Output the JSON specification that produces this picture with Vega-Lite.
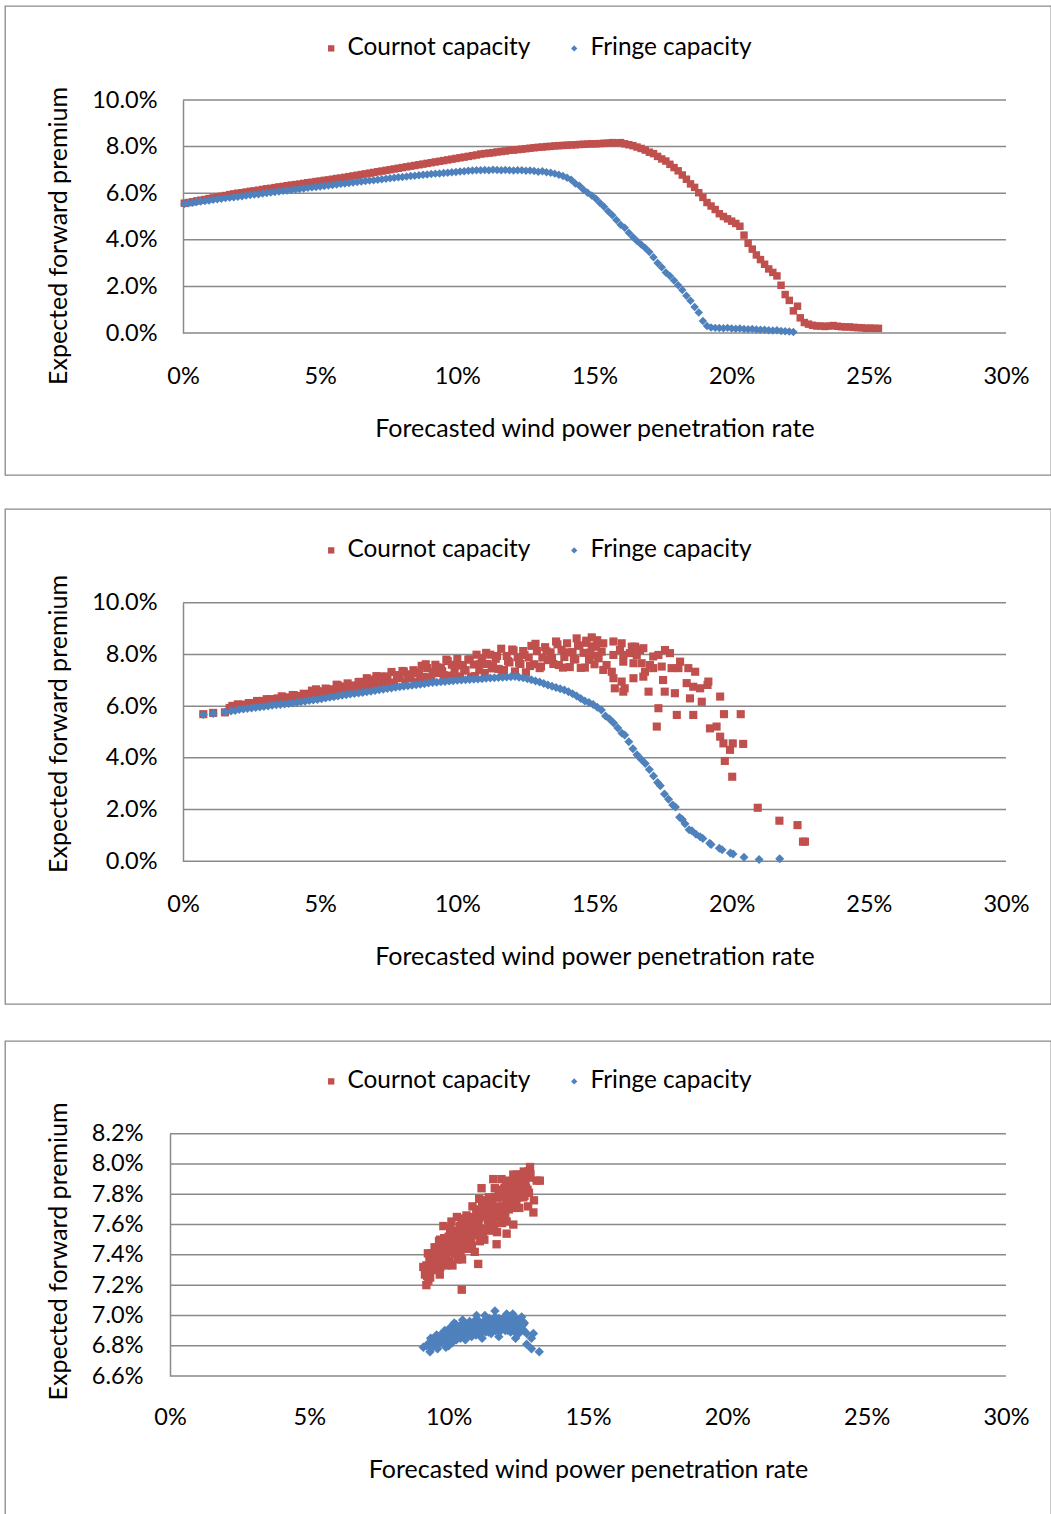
{
  "$schema": "https://vega.github.io/schema/vega-lite/v6.json",
  "padding": {"left": 4, "top": 5, "right": 0, "bottom": 0},
  "background": "white",
  "config": {
    "font": "Lato",
    "view": {"stroke": "#898989", "strokeWidth": 1.3},
    "axis": {
      "labelFont": "Lato", "labelFontSize": 23.5, "labelColor": "#000000",
      "titleFont": "Lato", "titleFontSize": 25, "titleFontWeight": "normal", "titleColor": "#000000",
      "grid": false, "ticks": false, "tickSize": 0, "labelFlush": false, "labelOverlap": false,
      "domainColor": "#898989", "domainWidth": 1.5
    },
    "legend": {
      "orient": "none", "direction": "horizontal", "title": null, "padding": 0, "labelLimit": 0,
      "labelFont": "Lato", "labelFontSize": 24.4, "labelColor": "#000000",
      "symbolSize": 40, "symbolStrokeWidth": 0, "labelOffset": 4, "columnPadding": 31
    }
  },
  "datasets": {
    "grid10": [{"y": 0}, {"y": 2}, {"y": 4}, {"y": 6}, {"y": 8}, {"y": 10}],
    "grid82": [{"y": 6.6}, {"y": 6.8}, {"y": 7.0}, {"y": 7.2}, {"y": 7.4}, {"y": 7.6}, {"y": 7.8}, {"y": 8.0}, {"y": 8.2}],
    "c1": [
      {"x":0.05,"y":5.57},{"x":0.2,"y":5.6},{"x":0.35,"y":5.63},{"x":0.5,"y":5.67},{"x":0.65,"y":5.7},{"x":0.8,"y":5.73},{"x":0.95,"y":5.77},{"x":1.1,"y":5.8},{"x":1.25,"y":5.84},{"x":1.4,"y":5.87},
      {"x":1.55,"y":5.9},{"x":1.7,"y":5.94},{"x":1.85,"y":5.97},{"x":2.0,"y":6.0},{"x":2.15,"y":6.02},{"x":2.3,"y":6.05},{"x":2.45,"y":6.08},{"x":2.6,"y":6.1},{"x":2.75,"y":6.13},{"x":2.9,"y":6.16},
      {"x":3.05,"y":6.19},{"x":3.2,"y":6.21},{"x":3.35,"y":6.24},{"x":3.5,"y":6.27},{"x":3.65,"y":6.29},{"x":3.8,"y":6.32},{"x":3.95,"y":6.35},{"x":4.1,"y":6.37},{"x":4.25,"y":6.39},{"x":4.4,"y":6.42},
      {"x":4.55,"y":6.45},{"x":4.7,"y":6.47},{"x":4.85,"y":6.5},{"x":5.0,"y":6.52},{"x":5.15,"y":6.55},{"x":5.3,"y":6.57},{"x":5.45,"y":6.6},{"x":5.6,"y":6.63},{"x":5.75,"y":6.65},{"x":5.9,"y":6.68},
      {"x":6.05,"y":6.71},{"x":6.2,"y":6.74},{"x":6.35,"y":6.77},{"x":6.5,"y":6.8},{"x":6.65,"y":6.83},{"x":6.8,"y":6.86},{"x":6.95,"y":6.89},{"x":7.1,"y":6.92},{"x":7.25,"y":6.95},{"x":7.4,"y":6.98},
      {"x":7.55,"y":7.01},{"x":7.7,"y":7.04},{"x":7.85,"y":7.07},{"x":8.0,"y":7.1},{"x":8.15,"y":7.13},{"x":8.3,"y":7.16},{"x":8.45,"y":7.19},{"x":8.6,"y":7.22},{"x":8.75,"y":7.25},{"x":8.9,"y":7.28},
      {"x":9.05,"y":7.31},{"x":9.2,"y":7.34},{"x":9.35,"y":7.37},{"x":9.5,"y":7.4},{"x":9.65,"y":7.43},{"x":9.8,"y":7.46},{"x":9.95,"y":7.49},{"x":10.1,"y":7.52},{"x":10.25,"y":7.55},{"x":10.4,"y":7.58},
      {"x":10.55,"y":7.61},{"x":10.7,"y":7.64},{"x":10.85,"y":7.68},{"x":11.0,"y":7.7},{"x":11.15,"y":7.72},{"x":11.3,"y":7.74},{"x":11.45,"y":7.77},{"x":11.6,"y":7.79},{"x":11.75,"y":7.81},{"x":11.9,"y":7.84},
      {"x":12.05,"y":7.85},{"x":12.2,"y":7.87},{"x":12.35,"y":7.89},{"x":12.5,"y":7.91},{"x":12.65,"y":7.93},{"x":12.8,"y":7.95},{"x":12.95,"y":7.97},{"x":13.1,"y":7.98},{"x":13.25,"y":8.0},{"x":13.4,"y":8.01},
      {"x":13.55,"y":8.03},{"x":13.7,"y":8.04},{"x":13.85,"y":8.05},{"x":14.0,"y":8.06},{"x":14.15,"y":8.07},{"x":14.3,"y":8.08},{"x":14.45,"y":8.09},{"x":14.6,"y":8.1},{"x":14.75,"y":8.11},{"x":14.9,"y":8.12},
      {"x":15.05,"y":8.12},{"x":15.2,"y":8.13},{"x":15.35,"y":8.14},{"x":15.5,"y":8.15},{"x":15.65,"y":8.17},{"x":15.8,"y":8.16},{"x":15.95,"y":8.17},{"x":16.1,"y":8.12},{"x":16.25,"y":8.08},{"x":16.4,"y":8.04},
      {"x":16.55,"y":7.98},{"x":16.7,"y":7.92},{"x":16.85,"y":7.85},{"x":17.0,"y":7.76},{"x":17.15,"y":7.7},{"x":17.3,"y":7.58},{"x":17.45,"y":7.47},{"x":17.6,"y":7.38},{"x":17.75,"y":7.24},{"x":17.9,"y":7.1},
      {"x":18.05,"y":6.96},{"x":18.2,"y":6.78},{"x":18.35,"y":6.6},{"x":18.5,"y":6.4},{"x":18.65,"y":6.25},{"x":18.8,"y":6.02},{"x":18.95,"y":5.82},{"x":19.1,"y":5.6},{"x":19.25,"y":5.45},{"x":19.4,"y":5.3},
      {"x":19.55,"y":5.12},{"x":19.7,"y":5.0},{"x":19.85,"y":4.9},{"x":20.0,"y":4.8},{"x":20.15,"y":4.7},{"x":20.3,"y":4.58},{"x":20.45,"y":4.2},{"x":20.6,"y":3.85},{"x":20.75,"y":3.6},{"x":20.9,"y":3.35},
      {"x":21.05,"y":3.15},{"x":21.2,"y":2.95},{"x":21.35,"y":2.75},{"x":21.5,"y":2.6},{"x":21.65,"y":2.45},{"x":21.8,"y":2.05},{"x":21.95,"y":1.65},{"x":22.1,"y":1.4},{"x":22.25,"y":0.95},{"x":22.4,"y":1.15},
      {"x":22.5,"y":0.65},{"x":22.65,"y":0.45},{"x":22.8,"y":0.38},{"x":22.95,"y":0.33},{"x":23.1,"y":0.3},{"x":23.25,"y":0.3},{"x":23.4,"y":0.28},{"x":23.55,"y":0.3},{"x":23.7,"y":0.32},{"x":23.85,"y":0.29},
      {"x":24.0,"y":0.27},{"x":24.15,"y":0.26},{"x":24.3,"y":0.26},{"x":24.45,"y":0.24},{"x":24.6,"y":0.23},{"x":24.75,"y":0.22},{"x":24.9,"y":0.2},{"x":25.05,"y":0.21},{"x":25.2,"y":0.2},{"x":25.35,"y":0.2}
    ],
    "f1": [
      {"x":0.05,"y":5.54},{"x":0.2,"y":5.57},{"x":0.35,"y":5.59},{"x":0.5,"y":5.62},{"x":0.65,"y":5.64},{"x":0.8,"y":5.67},{"x":0.95,"y":5.69},{"x":1.1,"y":5.72},{"x":1.25,"y":5.74},{"x":1.4,"y":5.76},
      {"x":1.55,"y":5.79},{"x":1.7,"y":5.81},{"x":1.85,"y":5.83},{"x":2.0,"y":5.85},{"x":2.15,"y":5.87},{"x":2.3,"y":5.9},{"x":2.45,"y":5.92},{"x":2.6,"y":5.94},{"x":2.75,"y":5.96},{"x":2.9,"y":5.99},
      {"x":3.05,"y":6.01},{"x":3.2,"y":6.03},{"x":3.35,"y":6.05},{"x":3.5,"y":6.07},{"x":3.65,"y":6.1},{"x":3.8,"y":6.12},{"x":3.95,"y":6.14},{"x":4.1,"y":6.16},{"x":4.25,"y":6.18},{"x":4.4,"y":6.2},
      {"x":4.55,"y":6.23},{"x":4.7,"y":6.25},{"x":4.85,"y":6.27},{"x":5.0,"y":6.29},{"x":5.15,"y":6.31},{"x":5.3,"y":6.33},{"x":5.45,"y":6.35},{"x":5.6,"y":6.37},{"x":5.75,"y":6.4},{"x":5.9,"y":6.42},
      {"x":6.05,"y":6.44},{"x":6.2,"y":6.46},{"x":6.35,"y":6.48},{"x":6.5,"y":6.5},{"x":6.65,"y":6.52},{"x":6.8,"y":6.54},{"x":6.95,"y":6.56},{"x":7.1,"y":6.58},{"x":7.25,"y":6.6},{"x":7.4,"y":6.62},
      {"x":7.55,"y":6.64},{"x":7.7,"y":6.66},{"x":7.85,"y":6.68},{"x":8.0,"y":6.7},{"x":8.15,"y":6.72},{"x":8.3,"y":6.74},{"x":8.45,"y":6.75},{"x":8.6,"y":6.77},{"x":8.75,"y":6.79},{"x":8.9,"y":6.8},
      {"x":9.05,"y":6.82},{"x":9.2,"y":6.84},{"x":9.35,"y":6.85},{"x":9.5,"y":6.87},{"x":9.65,"y":6.88},{"x":9.8,"y":6.9},{"x":9.95,"y":6.91},{"x":10.1,"y":6.93},{"x":10.25,"y":6.94},{"x":10.4,"y":6.96},
      {"x":10.55,"y":6.97},{"x":10.7,"y":6.98},{"x":10.85,"y":6.99},{"x":11.0,"y":7.0},{"x":11.15,"y":6.99},{"x":11.3,"y":7.01},{"x":11.45,"y":7.0},{"x":11.6,"y":6.98},{"x":11.75,"y":7.0},{"x":11.9,"y":6.99},
      {"x":12.05,"y":6.97},{"x":12.2,"y":6.99},{"x":12.35,"y":6.98},{"x":12.5,"y":6.96},{"x":12.65,"y":6.97},{"x":12.8,"y":6.95},{"x":12.95,"y":6.92},{"x":13.1,"y":6.94},{"x":13.25,"y":6.9},{"x":13.4,"y":6.88},
      {"x":13.55,"y":6.84},{"x":13.7,"y":6.79},{"x":13.85,"y":6.74},{"x":14.0,"y":6.66},{"x":14.15,"y":6.58},{"x":14.3,"y":6.42},{"x":14.45,"y":6.32},{"x":14.6,"y":6.15},{"x":14.75,"y":6.02},{"x":14.9,"y":5.9},
      {"x":15.05,"y":5.76},{"x":15.2,"y":5.58},{"x":15.35,"y":5.42},{"x":15.5,"y":5.22},{"x":15.65,"y":5.05},{"x":15.8,"y":4.85},{"x":15.95,"y":4.65},{"x":16.1,"y":4.52},{"x":16.25,"y":4.3},{"x":16.4,"y":4.12},
      {"x":16.55,"y":3.95},{"x":16.7,"y":3.8},{"x":16.85,"y":3.65},{"x":17.0,"y":3.48},{"x":17.15,"y":3.25},{"x":17.3,"y":3.0},{"x":17.45,"y":2.82},{"x":17.6,"y":2.6},{"x":17.75,"y":2.45},{"x":17.9,"y":2.25},
      {"x":18.05,"y":2.05},{"x":18.2,"y":1.85},{"x":18.35,"y":1.6},{"x":18.5,"y":1.38},{"x":18.65,"y":1.12},{"x":18.8,"y":0.88},{"x":18.95,"y":0.52},{"x":19.1,"y":0.3},{"x":19.25,"y":0.24},{"x":19.4,"y":0.22},
      {"x":19.55,"y":0.21},{"x":19.7,"y":0.2},{"x":19.85,"y":0.22},{"x":20.0,"y":0.19},{"x":20.15,"y":0.18},{"x":20.3,"y":0.19},{"x":20.45,"y":0.17},{"x":20.6,"y":0.16},{"x":20.75,"y":0.17},{"x":20.9,"y":0.15},
      {"x":21.05,"y":0.14},{"x":21.2,"y":0.14},{"x":21.35,"y":0.12},{"x":21.5,"y":0.11},{"x":21.65,"y":0.12},{"x":21.8,"y":0.09},{"x":21.95,"y":0.08},{"x":22.1,"y":0.06},{"x":22.25,"y":0.04}
    ],
    "c2": [
      {"x":0.74,"y":5.69},{"x":1.1,"y":5.74},{"x":1.53,"y":5.76},
      {"x":1.7,"y":5.93},{"x":1.8,"y":6.01},{"x":1.9,"y":5.99},{"x":2.0,"y":6.07},{"x":2.1,"y":5.97},{"x":2.2,"y":6.06},{"x":2.3,"y":6.04},{"x":2.4,"y":6.12},{"x":2.5,"y":6.02},{"x":2.6,"y":6.12},
      {"x":2.7,"y":6.2},{"x":2.8,"y":6.1},{"x":2.9,"y":6.2},{"x":3.0,"y":6.11},{"x":3.1,"y":6.19},{"x":3.2,"y":6.27},{"x":3.3,"y":6.2},{"x":3.4,"y":6.27},{"x":3.5,"y":6.2},{"x":3.6,"y":6.38},
      {"x":3.7,"y":6.21},{"x":3.8,"y":6.34},{"x":3.9,"y":6.3},{"x":4.0,"y":6.43},{"x":4.1,"y":6.25},{"x":4.2,"y":6.39},{"x":4.3,"y":6.34},{"x":4.4,"y":6.48},{"x":4.5,"y":6.29},{"x":4.6,"y":6.46},
      {"x":4.7,"y":6.6},{"x":4.8,"y":6.42},{"x":4.9,"y":6.58},{"x":5.0,"y":6.41},{"x":5.1,"y":6.55},{"x":5.2,"y":6.68},{"x":5.3,"y":6.55},{"x":5.4,"y":6.65},{"x":5.5,"y":6.53},{"x":5.6,"y":6.83},
      {"x":5.7,"y":6.55},{"x":5.8,"y":6.76},{"x":5.9,"y":6.68},{"x":6.0,"y":6.88},{"x":6.1,"y":6.58},{"x":6.2,"y":6.8},{"x":6.3,"y":6.72},{"x":6.4,"y":6.93},{"x":6.5,"y":6.62},{"x":6.6,"y":6.87},
      {"x":6.7,"y":7.08},{"x":6.8,"y":6.79},{"x":6.9,"y":7.03},{"x":7.0,"y":6.76},{"x":7.1,"y":6.95},{"x":7.2,"y":7.15},{"x":7.3,"y":6.94},{"x":7.4,"y":7.09},{"x":7.5,"y":6.9},{"x":7.6,"y":7.32},
      {"x":7.7,"y":6.91},{"x":7.8,"y":7.2},{"x":7.9,"y":7.09},{"x":8.0,"y":7.36},{"x":8.1,"y":6.92},{"x":8.2,"y":7.23},{"x":8.3,"y":7.09},{"x":8.4,"y":7.39},{"x":8.5,"y":6.93},{"x":8.6,"y":7.27},
      {"x":8.7,"y":7.56},{"x":8.8,"y":7.13},{"x":8.9,"y":7.47},{"x":9.0,"y":7.06},{"x":9.1,"y":7.32},{"x":9.2,"y":7.6},{"x":9.3,"y":7.28},{"x":9.4,"y":7.49},{"x":9.5,"y":7.2},{"x":9.6,"y":7.8},
      {"x":9.7,"y":7.18},{"x":9.8,"y":7.6},{"x":9.9,"y":7.42},{"x":10.0,"y":7.82},{"x":10.1,"y":7.15},{"x":10.2,"y":7.59},{"x":10.3,"y":7.39},{"x":10.4,"y":7.8},{"x":10.5,"y":7.14},{"x":10.6,"y":7.61},
      {"x":10.7,"y":7.99},{"x":10.8,"y":7.4},{"x":10.9,"y":7.84},{"x":11.0,"y":7.28},{"x":11.1,"y":7.63},{"x":11.2,"y":7.99},{"x":11.3,"y":7.56},{"x":11.4,"y":7.83},{"x":11.5,"y":7.44},{"x":11.6,"y":8.22},
      {"x":11.7,"y":7.4},{"x":11.8,"y":7.94},{"x":11.9,"y":7.69},{"x":12.0,"y":8.19},{"x":12.1,"y":7.34},{"x":12.2,"y":7.89},{"x":12.3,"y":7.63},{"x":12.4,"y":8.13},{"x":12.5,"y":7.31},{"x":12.6,"y":7.88},
      {"x":12.7,"y":8.33},{"x":12.8,"y":7.62},{"x":12.9,"y":8.13},{"x":13.0,"y":7.47},{"x":13.1,"y":7.88},{"x":13.2,"y":8.28},{"x":13.3,"y":7.78},{"x":13.4,"y":8.08},{"x":13.5,"y":7.63},{"x":13.6,"y":8.5},
      {"x":13.7,"y":7.59},{"x":13.8,"y":8.18},{"x":13.9,"y":7.9},{"x":14.0,"y":8.43},{"x":14.1,"y":7.51},{"x":14.2,"y":8.09},{"x":14.3,"y":7.81},{"x":14.4,"y":8.34},{"x":14.5,"y":7.48},{"x":14.6,"y":8.06},
      {"x":14.7,"y":8.53},{"x":14.8,"y":7.79},{"x":14.9,"y":8.31},{"x":15.0,"y":7.62},
      {"x":3.05,"y":6.27},{"x":3.25,"y":6.17},{"x":3.45,"y":6.3},{"x":3.65,"y":6.19},{"x":3.85,"y":6.3},{"x":4.05,"y":6.42},{"x":4.25,"y":6.35},{"x":4.45,"y":6.46},{"x":4.65,"y":6.38},{"x":4.85,"y":6.65},
      {"x":5.05,"y":6.44},{"x":5.25,"y":6.64},{"x":5.45,"y":6.59},{"x":5.65,"y":6.8},{"x":5.85,"y":6.54},{"x":6.05,"y":6.77},{"x":6.25,"y":6.71},{"x":6.45,"y":6.94},{"x":6.65,"y":6.65},{"x":6.85,"y":6.92},
      {"x":7.05,"y":7.16},{"x":7.25,"y":6.88},{"x":7.45,"y":7.15},{"x":7.65,"y":6.87},{"x":7.85,"y":7.1},{"x":8.05,"y":7.34},{"x":8.25,"y":7.12},{"x":8.45,"y":7.31},{"x":8.65,"y":7.08},{"x":8.85,"y":7.62},
      {"x":9.05,"y":7.1},{"x":9.25,"y":7.5},{"x":9.45,"y":7.35},{"x":9.65,"y":7.74},{"x":9.85,"y":7.12},{"x":10.05,"y":7.57},{"x":10.25,"y":7.38},{"x":10.45,"y":7.81},{"x":10.65,"y":7.16},{"x":10.85,"y":7.64},
      {"x":11.05,"y":8.06},{"x":11.25,"y":7.46},{"x":11.45,"y":7.94},{"x":11.65,"y":7.35},{"x":11.85,"y":7.74},{"x":12.05,"y":8.15},{"x":12.25,"y":7.68},{"x":12.45,"y":7.98},{"x":12.65,"y":7.55},{"x":12.85,"y":8.41},
      {"x":13.05,"y":7.53},{"x":13.25,"y":8.12},{"x":13.45,"y":7.85},{"x":13.65,"y":8.39},{"x":13.85,"y":7.49},{"x":14.05,"y":8.08},{"x":14.25,"y":7.81},{"x":14.45,"y":8.34},{"x":14.65,"y":7.49},{"x":14.85,"y":8.07},
      {"x":14.35,"y":8.62},{"x":14.9,"y":8.66},{"x":15.1,"y":8.55},{"x":14.7,"y":8.45},{"x":15.05,"y":8.3},{"x":15.15,"y":7.85},{"x":15.0,"y":7.95},
      {"x":15.32,"y":8.43},{"x":15.69,"y":8.5},{"x":15.99,"y":8.43},{"x":15.93,"y":8.17},{"x":16.36,"y":8.3},{"x":16.48,"y":8.3},{"x":16.66,"y":8.17},{"x":16.78,"y":8.24},{"x":15.26,"y":8.11},{"x":15.69,"y":7.98},
      {"x":16.05,"y":7.98},{"x":16.29,"y":8.05},{"x":16.54,"y":7.98},{"x":17.14,"y":7.92},{"x":17.33,"y":7.98},{"x":17.57,"y":8.17},{"x":17.75,"y":8.05},{"x":18.12,"y":7.72},{"x":17.02,"y":7.59},{"x":16.72,"y":7.66},
      {"x":16.42,"y":7.66},{"x":16.05,"y":7.72},{"x":15.44,"y":7.59},{"x":15.32,"y":7.4},{"x":15.63,"y":7.33},{"x":15.69,"y":7.08},{"x":15.99,"y":6.95},{"x":16.1,"y":6.69},{"x":15.74,"y":6.69},{"x":16.05,"y":6.56},
      {"x":16.42,"y":7.08},{"x":16.78,"y":7.14},{"x":16.84,"y":7.33},{"x":17.14,"y":7.47},{"x":17.45,"y":7.53},{"x":17.81,"y":7.47},{"x":18.06,"y":7.47},{"x":18.42,"y":7.47},{"x":18.67,"y":7.33},{"x":17.5,"y":7.01},
      {"x":16.97,"y":6.56},{"x":17.56,"y":6.56},{"x":17.93,"y":6.5},{"x":18.36,"y":6.89},{"x":18.6,"y":6.75},{"x":18.85,"y":6.69},{"x":18.48,"y":6.3},{"x":18.91,"y":6.17},{"x":19.15,"y":6.95},{"x":19.12,"y":6.82},
      {"x":19.58,"y":6.37},{"x":17.33,"y":5.92},{"x":18.0,"y":5.66},{"x":18.6,"y":5.66},{"x":17.27,"y":5.21},{"x":19.21,"y":5.14},{"x":19.45,"y":5.21},{"x":19.72,"y":5.69},{"x":20.33,"y":5.69},{"x":19.58,"y":4.82},
      {"x":19.7,"y":4.56},{"x":20.04,"y":4.56},{"x":20.42,"y":4.54},{"x":19.94,"y":4.31},{"x":19.75,"y":3.88},{"x":20.02,"y":3.27},{"x":20.95,"y":2.07},{"x":21.74,"y":1.57},{"x":22.4,"y":1.4},{"x":22.6,"y":0.76},
      {"x":22.67,"y":0.76}
    ],
    "f2": [
      {"x":0.74,"y":5.68},{"x":1.1,"y":5.72},{"x":1.53,"y":5.77},{"x":1.75,"y":5.81},{"x":1.9,"y":5.83},{"x":2.05,"y":5.87},{"x":2.2,"y":5.89},{"x":2.35,"y":5.91},{"x":2.5,"y":5.93},{"x":2.65,"y":5.95},
      {"x":2.8,"y":5.97},{"x":2.95,"y":5.99},{"x":3.1,"y":6.01},{"x":3.25,"y":6.03},{"x":3.4,"y":6.05},{"x":3.55,"y":6.06},{"x":3.7,"y":6.08},{"x":3.85,"y":6.1},{"x":4.0,"y":6.12},{"x":4.15,"y":6.14},
      {"x":4.3,"y":6.17},{"x":4.45,"y":6.19},{"x":4.6,"y":6.22},{"x":4.75,"y":6.24},{"x":4.9,"y":6.26},{"x":5.05,"y":6.29},{"x":5.2,"y":6.31},{"x":5.35,"y":6.34},{"x":5.5,"y":6.36},{"x":5.65,"y":6.39},
      {"x":5.8,"y":6.42},{"x":5.95,"y":6.44},{"x":6.1,"y":6.47},{"x":6.25,"y":6.49},{"x":6.4,"y":6.51},{"x":6.55,"y":6.53},{"x":6.7,"y":6.56},{"x":6.85,"y":6.58},{"x":7.0,"y":6.6},{"x":7.15,"y":6.63},
      {"x":7.3,"y":6.65},{"x":7.45,"y":6.68},{"x":7.6,"y":6.7},{"x":7.75,"y":6.73},{"x":7.9,"y":6.75},{"x":8.05,"y":6.77},{"x":8.2,"y":6.79},{"x":8.35,"y":6.81},{"x":8.5,"y":6.83},{"x":8.65,"y":6.85},
      {"x":8.8,"y":6.87},{"x":8.95,"y":6.89},{"x":9.1,"y":6.91},{"x":9.25,"y":6.92},{"x":9.4,"y":6.94},{"x":9.55,"y":6.95},{"x":9.7,"y":6.97},{"x":9.85,"y":6.98},{"x":10.0,"y":7.0},{"x":10.15,"y":7.01},
      {"x":10.3,"y":7.02},{"x":10.45,"y":7.03},{"x":10.6,"y":7.04},{"x":10.75,"y":7.05},{"x":10.9,"y":7.06},{"x":11.05,"y":7.08},{"x":11.2,"y":7.09},{"x":11.35,"y":7.1},{"x":11.5,"y":7.11},{"x":11.65,"y":7.12},
      {"x":11.8,"y":7.13},{"x":11.95,"y":7.14},{"x":12.1,"y":7.15},{"x":12.25,"y":7.12},{"x":12.4,"y":7.1},{"x":12.55,"y":7.06},{"x":12.7,"y":7.02},{"x":12.85,"y":6.97},{"x":13.0,"y":6.93},{"x":13.15,"y":6.88},
      {"x":13.3,"y":6.82},{"x":13.45,"y":6.77},{"x":13.6,"y":6.72},{"x":13.75,"y":6.67},{"x":13.9,"y":6.62},{"x":14.05,"y":6.56},{"x":14.2,"y":6.48},{"x":14.35,"y":6.39},{"x":14.5,"y":6.3},{"x":14.65,"y":6.2},
      {"x":14.8,"y":6.14},{"x":14.95,"y":6.06},{"x":15.1,"y":5.96},{"x":15.25,"y":5.85},{"x":15.4,"y":5.62},{"x":15.55,"y":5.5},{"x":15.7,"y":5.35},{"x":15.85,"y":5.15},{"x":16.0,"y":4.95},{"x":16.1,"y":4.88},
      {"x":16.25,"y":4.62},{"x":16.4,"y":4.35},{"x":16.55,"y":4.12},{"x":16.7,"y":3.95},{"x":16.85,"y":3.78},{"x":17.0,"y":3.55},{"x":17.15,"y":3.3},{"x":17.3,"y":3.05},{"x":17.4,"y":2.92},{"x":17.55,"y":2.6},
      {"x":17.7,"y":2.4},{"x":17.85,"y":2.18},{"x":17.95,"y":2.1},{"x":18.1,"y":1.7},{"x":18.2,"y":1.62},{"x":18.3,"y":1.45},{"x":18.45,"y":1.22},{"x":18.55,"y":1.18},{"x":18.7,"y":1.05},{"x":18.85,"y":0.95},
      {"x":18.95,"y":0.88},{"x":19.2,"y":0.7},{"x":19.25,"y":0.65},{"x":19.55,"y":0.5},{"x":19.65,"y":0.45},{"x":19.95,"y":0.32},{"x":20.05,"y":0.28},{"x":20.45,"y":0.16},{"x":21.0,"y":0.07},{"x":21.75,"y":0.1}
    ],
    "c3": [
      {"x":9.2,"y":7.33},{"x":9.23,"y":7.26},{"x":9.255,"y":7.41},{"x":9.28,"y":7.31},{"x":9.31,"y":7.37},{"x":9.335,"y":7.25},{"x":9.36,"y":7.34},{"x":9.39,"y":7.41},{"x":9.415,"y":7.31},
      {"x":9.44,"y":7.38},{"x":9.47,"y":7.35},{"x":9.495,"y":7.45},{"x":9.52,"y":7.3},{"x":9.55,"y":7.39},{"x":9.575,"y":7.35},{"x":9.6,"y":7.45},{"x":9.63,"y":7.31},{"x":9.655,"y":7.49},
      {"x":9.68,"y":7.27},{"x":9.71,"y":7.42},{"x":9.735,"y":7.45},{"x":9.76,"y":7.34},{"x":9.79,"y":7.42},{"x":9.815,"y":7.39},{"x":9.84,"y":7.51},{"x":9.87,"y":7.38},{"x":9.895,"y":7.49},
      {"x":9.92,"y":7.33},{"x":9.95,"y":7.47},{"x":9.975,"y":7.43},{"x":10.0,"y":7.46},{"x":10.03,"y":7.36},{"x":10.055,"y":7.57},{"x":10.08,"y":7.42},{"x":10.11,"y":7.52},{"x":10.135,"y":7.33},
      {"x":10.16,"y":7.47},{"x":10.19,"y":7.56},{"x":10.215,"y":7.41},{"x":10.24,"y":7.53},{"x":10.27,"y":7.47},{"x":10.295,"y":7.65},{"x":10.32,"y":7.37},{"x":10.35,"y":7.53},{"x":10.375,"y":7.45},
      {"x":10.4,"y":7.59},{"x":10.43,"y":7.42},{"x":10.455,"y":7.64},{"x":10.48,"y":7.37},{"x":10.51,"y":7.55},{"x":10.535,"y":7.59},{"x":10.56,"y":7.45},{"x":10.59,"y":7.54},{"x":10.615,"y":7.51},
      {"x":10.64,"y":7.66},{"x":10.67,"y":7.5},{"x":10.695,"y":7.63},{"x":10.72,"y":7.44},{"x":10.75,"y":7.6},{"x":10.775,"y":7.55},{"x":10.8,"y":7.58},{"x":10.83,"y":7.46},{"x":10.855,"y":7.72},
      {"x":10.88,"y":7.54},{"x":10.91,"y":7.65},{"x":10.935,"y":7.42},{"x":10.96,"y":7.59},{"x":10.99,"y":7.7},{"x":11.015,"y":7.53},{"x":11.04,"y":7.66},{"x":11.07,"y":7.59},{"x":11.095,"y":7.77},
      {"x":11.12,"y":7.49},{"x":11.15,"y":7.66},{"x":11.175,"y":7.57},{"x":11.2,"y":7.72},{"x":11.23,"y":7.54},{"x":11.255,"y":7.76},{"x":11.28,"y":7.5},{"x":11.31,"y":7.67},{"x":11.335,"y":7.71},
      {"x":11.36,"y":7.57},{"x":11.39,"y":7.67},{"x":11.415,"y":7.63},{"x":11.44,"y":7.78},{"x":11.47,"y":7.62},{"x":11.495,"y":7.75},{"x":11.52,"y":7.56},{"x":11.55,"y":7.73},{"x":11.575,"y":7.68},
      {"x":11.6,"y":7.71},{"x":11.63,"y":7.59},{"x":11.655,"y":7.84},{"x":11.68,"y":7.67},{"x":11.71,"y":7.78},{"x":11.735,"y":7.55},{"x":11.76,"y":7.71},{"x":11.79,"y":7.83},{"x":11.815,"y":7.65},
      {"x":11.84,"y":7.78},{"x":11.87,"y":7.71},{"x":11.895,"y":7.9},{"x":11.92,"y":7.61},{"x":11.95,"y":7.78},{"x":11.975,"y":7.69},{"x":12.0,"y":7.84},{"x":12.03,"y":7.67},{"x":12.055,"y":7.89},
      {"x":12.08,"y":7.62},{"x":12.11,"y":7.8},{"x":12.135,"y":7.84},{"x":12.16,"y":7.7},{"x":12.19,"y":7.79},{"x":12.215,"y":7.76},{"x":12.24,"y":7.88},{"x":12.27,"y":7.76},{"x":12.295,"y":7.86},
      {"x":12.32,"y":7.71},{"x":12.35,"y":7.84},{"x":12.375,"y":7.8},{"x":12.4,"y":7.83},{"x":12.43,"y":7.73},{"x":12.455,"y":7.93},{"x":12.48,"y":7.8},{"x":12.51,"y":7.89},{"x":12.535,"y":7.71},
      {"x":12.56,"y":7.84},{"x":12.59,"y":7.93},{"x":12.615,"y":7.79},{"x":12.64,"y":7.88},{"x":12.67,"y":7.85},{"x":12.695,"y":7.95},{"x":12.72,"y":7.79},{"x":12.75,"y":7.89},{"x":12.775,"y":7.84},
      {"x":12.8,"y":7.93},{"x":12.83,"y":7.83},{"x":12.855,"y":7.95},{"x":12.88,"y":7.81},{"x":12.91,"y":7.91},{"x":12.935,"y":7.93},
      {"x":9.45,"y":7.36},{"x":9.55,"y":7.32},{"x":9.65,"y":7.45},{"x":9.75,"y":7.39},{"x":9.85,"y":7.45},{"x":9.95,"y":7.36},{"x":10.05,"y":7.45},{"x":10.15,"y":7.51},{"x":10.25,"y":7.45},{"x":10.35,"y":7.52},
      {"x":10.45,"y":7.5},{"x":10.55,"y":7.6},{"x":10.65,"y":7.49},{"x":10.75,"y":7.57},{"x":10.85,"y":7.55},{"x":10.95,"y":7.63},{"x":11.05,"y":7.56},{"x":11.15,"y":7.68},{"x":11.25,"y":7.57},{"x":11.35,"y":7.66},
      {"x":11.45,"y":7.69},{"x":11.55,"y":7.65},{"x":11.65,"y":7.7},{"x":11.75,"y":7.7},{"x":11.85,"y":7.78},{"x":11.95,"y":7.72},{"x":12.05,"y":7.79},{"x":12.15,"y":7.72},{"x":12.25,"y":7.81},{"x":12.35,"y":7.8},
      {"x":12.45,"y":7.83},{"x":12.55,"y":7.79},{"x":12.65,"y":7.92},{"x":12.75,"y":7.85},
      {"x":9.5,"y":7.36},{"x":9.6,"y":7.41},{"x":9.7,"y":7.32},{"x":9.8,"y":7.46},{"x":9.9,"y":7.4},{"x":10.0,"y":7.52},{"x":10.1,"y":7.44},{"x":10.2,"y":7.48},{"x":10.3,"y":7.43},{"x":10.4,"y":7.55},
      {"x":10.5,"y":7.54},{"x":10.6,"y":7.44},{"x":10.7,"y":7.63},{"x":10.8,"y":7.51},{"x":10.9,"y":7.64},{"x":11.0,"y":7.56},{"x":11.1,"y":7.64},{"x":11.2,"y":7.54},{"x":11.3,"y":7.75},{"x":11.4,"y":7.65},
      {"x":11.5,"y":7.71},{"x":11.6,"y":7.64},{"x":11.7,"y":7.78},{"x":11.8,"y":7.72},{"x":11.9,"y":7.63},{"x":12.0,"y":7.8},{"x":12.1,"y":7.74},{"x":12.2,"y":7.88},{"x":12.3,"y":7.73},{"x":12.4,"y":7.83},
      {"x":12.5,"y":7.78},{"x":12.6,"y":7.87},{"x":12.7,"y":7.8},
      {"x":9.81,"y":7.59},{"x":10.1,"y":7.62},{"x":9.69,"y":7.5},{"x":12.08,"y":7.54},{"x":11.72,"y":7.47},{"x":12.32,"y":7.6},{"x":11.18,"y":7.84},{"x":11.6,"y":7.9},{"x":12.32,"y":7.93},{"x":12.68,"y":7.78},
      {"x":9.09,"y":7.32},{"x":9.15,"y":7.27},{"x":9.27,"y":7.23},{"x":9.2,"y":7.2},{"x":10.47,"y":7.17},{"x":11.06,"y":7.34},{"x":12.92,"y":7.98},{"x":13.16,"y":7.89},{"x":13.27,"y":7.89},{"x":13.06,"y":7.76},
      {"x":13.04,"y":7.68},{"x":12.85,"y":7.72}
    ],
    "f3": [
      {"x":9.3,"y":6.82},{"x":9.33,"y":6.8},{"x":9.355,"y":6.85},{"x":9.37,"y":6.82},{"x":9.4,"y":6.84},{"x":9.425,"y":6.79},{"x":9.44,"y":6.83},{"x":9.47,"y":6.85},{"x":9.495,"y":6.82},
      {"x":9.51,"y":6.85},{"x":9.54,"y":6.83},{"x":9.565,"y":6.87},{"x":9.58,"y":6.81},{"x":9.61,"y":6.85},{"x":9.635,"y":6.83},{"x":9.65,"y":6.86},{"x":9.68,"y":6.83},{"x":9.705,"y":6.87},
      {"x":9.72,"y":6.82},{"x":9.75,"y":6.85},{"x":9.775,"y":6.86},{"x":9.79,"y":6.84},{"x":9.82,"y":6.86},{"x":9.845,"y":6.85},{"x":9.86,"y":6.9},{"x":9.89,"y":6.84},{"x":9.915,"y":6.89},
      {"x":9.93,"y":6.82},{"x":9.96,"y":6.88},{"x":9.985,"y":6.86},{"x":10.0,"y":6.87},{"x":10.03,"y":6.83},{"x":10.055,"y":6.92},{"x":10.07,"y":6.86},{"x":10.1,"y":6.9},{"x":10.125,"y":6.82},
      {"x":10.14,"y":6.88},{"x":10.17,"y":6.91},{"x":10.195,"y":6.85},{"x":10.21,"y":6.9},{"x":10.24,"y":6.88},{"x":10.265,"y":6.94},{"x":10.28,"y":6.84},{"x":10.31,"y":6.9},{"x":10.335,"y":6.87},
      {"x":10.35,"y":6.92},{"x":10.38,"y":6.86},{"x":10.405,"y":6.93},{"x":10.42,"y":6.85},{"x":10.45,"y":6.9},{"x":10.475,"y":6.92},{"x":10.49,"y":6.87},{"x":10.52,"y":6.9},{"x":10.545,"y":6.89},
      {"x":10.56,"y":6.94},{"x":10.59,"y":6.89},{"x":10.615,"y":6.93},{"x":10.63,"y":6.87},{"x":10.66,"y":6.92},{"x":10.685,"y":6.9},{"x":10.7,"y":6.91},{"x":10.73,"y":6.87},{"x":10.755,"y":6.96},
      {"x":10.77,"y":6.9},{"x":10.8,"y":6.93},{"x":10.825,"y":6.86},{"x":10.84,"y":6.91},{"x":10.87,"y":6.95},{"x":10.895,"y":6.89},{"x":10.91,"y":6.93},{"x":10.94,"y":6.91},{"x":10.965,"y":6.97},
      {"x":10.98,"y":6.87},{"x":11.01,"y":6.93},{"x":11.035,"y":6.9},{"x":11.05,"y":6.95},{"x":11.08,"y":6.89},{"x":11.105,"y":6.96},{"x":11.12,"y":6.87},{"x":11.15,"y":6.93},{"x":11.175,"y":6.94},
      {"x":11.19,"y":6.9},{"x":11.22,"y":6.93},{"x":11.245,"y":6.91},{"x":11.26,"y":6.96},{"x":11.29,"y":6.91},{"x":11.315,"y":6.95},{"x":11.33,"y":6.89},{"x":11.36,"y":6.94},{"x":11.385,"y":6.92},
      {"x":11.4,"y":6.94},{"x":11.43,"y":6.89},{"x":11.455,"y":6.98},{"x":11.47,"y":6.92},{"x":11.5,"y":6.96},{"x":11.525,"y":6.88},{"x":11.54,"y":6.93},{"x":11.57,"y":6.97},{"x":11.595,"y":6.91},
      {"x":11.61,"y":6.96},{"x":11.64,"y":6.93},{"x":11.665,"y":6.99},{"x":11.68,"y":6.9},{"x":11.71,"y":6.95},{"x":11.735,"y":6.92},{"x":11.75,"y":6.97},{"x":11.78,"y":6.91},{"x":11.805,"y":6.98},
      {"x":11.82,"y":6.89},{"x":11.85,"y":6.95},{"x":11.875,"y":6.96},{"x":11.89,"y":6.91},{"x":11.92,"y":6.94},{"x":11.945,"y":6.93},{"x":11.96,"y":6.98},{"x":11.99,"y":6.93},{"x":12.015,"y":6.97},
      {"x":12.03,"y":6.9},{"x":12.06,"y":6.96},{"x":12.085,"y":6.94},{"x":12.1,"y":6.95},{"x":12.13,"y":6.9},{"x":12.155,"y":6.99},{"x":12.17,"y":6.93},{"x":12.2,"y":6.96},{"x":12.225,"y":6.89},
      {"x":12.24,"y":6.94},{"x":12.27,"y":6.98},{"x":12.295,"y":6.92},{"x":12.31,"y":6.96},{"x":12.34,"y":6.93},{"x":12.365,"y":6.99},{"x":12.38,"y":6.89},{"x":12.41,"y":6.95},{"x":12.435,"y":6.92},
      {"x":12.45,"y":6.96},{"x":12.48,"y":6.9},{"x":12.505,"y":6.97},{"x":12.52,"y":6.88},{"x":12.55,"y":6.94},{"x":12.575,"y":6.95},{"x":12.59,"y":6.9},{"x":12.62,"y":6.93},{"x":12.645,"y":6.91},
      {"x":12.66,"y":6.96},{"x":12.69,"y":6.9},{"x":12.715,"y":6.95},
      {"x":10.5,"y":6.97},{"x":11.0,"y":7.0},{"x":11.3,"y":7.0},{"x":12.3,"y":7.01},{"x":10.2,"y":6.95},{"x":10.0,"y":6.8},{"x":10.6,"y":6.84},{"x":11.2,"y":6.85},{"x":11.8,"y":6.86},{"x":12.4,"y":6.85},
      {"x":9.6,"y":6.78},{"x":9.9,"y":6.79},
      {"x":9.09,"y":6.79},{"x":9.2,"y":6.8},{"x":9.33,"y":6.76},{"x":11.66,"y":7.03},{"x":12.08,"y":7.01},{"x":12.62,"y":6.99},{"x":13.04,"y":6.88},{"x":12.8,"y":6.81},{"x":12.97,"y":6.78},{"x":13.25,"y":6.76},
      {"x":12.68,"y":6.94},{"x":12.8,"y":6.88},{"x":12.97,"y":6.85}
    ]
  },
  "vconcat": [
    {
      "width": 1046,
      "height": 469,
      "layer": [
        {
          "data": {"name": "grid10"},
          "mark": {"type": "rule", "color": "#898989", "strokeWidth": 1.5},
          "encoding": {
            "y": {"field": "y", "type": "quantitative",
              "scale": {"domain": [0, 10], "range": [327, 94], "nice": false, "zero": false},
              "axis": {"values": [0, 2, 4, 6, 8, 10], "labelExpr": "format(datum.value, '.1f') + '%'", "offset": -178, "labelPadding": 26,
                "title": "Expected forward premium", "titleAngle": 270, "titleAlign": "center", "titleBaseline": "alphabetic", "titleX": -117, "titleY": 229.5}},
            "x": {"datum": 0, "type": "quantitative",
              "scale": {"domain": [0, 30], "range": [178, 1001], "nice": false, "zero": false},
              "axis": {"values": [0, 5, 10, 15, 20, 25, 30], "labelExpr": "datum.value + '%'", "offset": -142, "labelPadding": 50, "labelBaseline": "alphabetic", "domain": false,
                "title": "Forecasted wind power penetration rate", "titleBaseline": "alphabetic", "titleY": 103}},
            "x2": {"datum": 30}
          }
        },
        {
          "data": {"name": "c1"},
          "mark": {"type": "point", "filled": true, "opacity": 1, "size": 56},
          "encoding": {
            "x": {"field": "x", "type": "quantitative"},
            "y": {"field": "y", "type": "quantitative"},
            "color": {"datum": "Cournot capacity", "scale": {"domain": ["Cournot capacity", "Fringe capacity"], "range": ["#C0504D", "#4F81BD"]}, "legend": {"legendX": 314, "legendY": 30}},
            "shape": {"datum": "Cournot capacity", "scale": {"domain": ["Cournot capacity", "Fringe capacity"], "range": ["square", "diamond"]}, "legend": {"legendX": 314, "legendY": 30}}
          }
        },
        {
          "data": {"name": "f1"},
          "mark": {"type": "point", "filled": true, "opacity": 1, "size": 72},
          "encoding": {
            "x": {"field": "x", "type": "quantitative"},
            "y": {"field": "y", "type": "quantitative"},
            "color": {"datum": "Fringe capacity"},
            "shape": {"datum": "Fringe capacity"}
          }
        }
      ]
    },
    {
      "spacing": 35,
      "resolve": {"scale": {"x": "independent", "y": "independent", "color": "independent", "shape": "independent"}, "legend": {"color": "independent", "shape": "independent"}},
      "vconcat": [
        {
          "width": 1046,
          "height": 495,
          "layer": [
            {
              "data": {"name": "grid10"},
              "mark": {"type": "rule", "color": "#898989", "strokeWidth": 1.5},
              "encoding": {
                "y": {"field": "y", "type": "quantitative",
                  "scale": {"domain": [0, 10], "range": [352.3, 93.7], "nice": false, "zero": false},
                  "axis": {"values": [0, 2, 4, 6, 8, 10], "labelExpr": "format(datum.value, '.1f') + '%'", "offset": -178, "labelPadding": 26,
                    "title": "Expected forward premium", "titleAngle": 270, "titleAlign": "center", "titleBaseline": "alphabetic", "titleX": -117, "titleY": 214.5}},
                "x": {"datum": 0, "type": "quantitative",
                  "scale": {"domain": [0, 30], "range": [178, 1001], "nice": false, "zero": false},
                  "axis": {"values": [0, 5, 10, 15, 20, 25, 30], "labelExpr": "datum.value + '%'", "offset": -142.7, "labelPadding": 50, "labelBaseline": "alphabetic", "domain": false,
                    "title": "Forecasted wind power penetration rate", "titleBaseline": "alphabetic", "titleY": 103}},
                "x2": {"datum": 30}
              }
            },
            {
              "data": {"name": "c2"},
              "mark": {"type": "point", "filled": true, "opacity": 1, "size": 66},
              "encoding": {
                "x": {"field": "x", "type": "quantitative"},
                "y": {"field": "y", "type": "quantitative"},
                "color": {"datum": "Cournot capacity", "scale": {"domain": ["Cournot capacity", "Fringe capacity"], "range": ["#C0504D", "#4F81BD"]}, "legend": {"legendX": 314, "legendY": 29}},
                "shape": {"datum": "Cournot capacity", "scale": {"domain": ["Cournot capacity", "Fringe capacity"], "range": ["square", "diamond"]}, "legend": {"legendX": 314, "legendY": 29}}
              }
            },
            {
              "data": {"name": "f2"},
              "mark": {"type": "point", "filled": true, "opacity": 1, "size": 81},
              "encoding": {
                "x": {"field": "x", "type": "quantitative"},
                "y": {"field": "y", "type": "quantitative"},
                "color": {"datum": "Fringe capacity"},
                "shape": {"datum": "Fringe capacity"}
              }
            }
          ]
        },
        {
          "width": 1046,
          "height": 476,
          "layer": [
            {
              "data": {"name": "grid82"},
              "mark": {"type": "rule", "color": "#898989", "strokeWidth": 1.5},
              "encoding": {
                "y": {"field": "y", "type": "quantitative",
                  "scale": {"domain": [6.6, 8.2], "range": [335, 92.7], "nice": false, "zero": false},
                  "axis": {"values": [6.6, 6.8, 7.0, 7.2, 7.4, 7.6, 7.8, 8.0, 8.2], "labelExpr": "format(datum.value, '.1f') + '%'", "offset": -165, "labelPadding": 27,
                    "title": "Expected forward premium", "titleAngle": 270, "titleAlign": "center", "titleBaseline": "alphabetic", "titleX": -104, "titleY": 210}},
                "x": {"datum": 0, "type": "quantitative",
                  "scale": {"domain": [0, 30], "range": [165, 1001], "nice": false, "zero": false},
                  "axis": {"values": [0, 5, 10, 15, 20, 25, 30], "labelExpr": "datum.value + '%'", "offset": -141, "labelPadding": 48, "labelBaseline": "alphabetic", "domain": false,
                    "title": "Forecasted wind power penetration rate", "titleBaseline": "alphabetic", "titleY": 101}},
                "x2": {"datum": 30}
              }
            },
            {
              "data": {"name": "c3"},
              "mark": {"type": "point", "filled": true, "opacity": 1, "size": 70},
              "encoding": {
                "x": {"field": "x", "type": "quantitative"},
                "y": {"field": "y", "type": "quantitative"},
                "color": {"datum": "Cournot capacity", "scale": {"domain": ["Cournot capacity", "Fringe capacity"], "range": ["#C0504D", "#4F81BD"]}, "legend": {"legendX": 314, "legendY": 28}},
                "shape": {"datum": "Cournot capacity", "scale": {"domain": ["Cournot capacity", "Fringe capacity"], "range": ["square", "diamond"]}, "legend": {"legendX": 314, "legendY": 28}}
              }
            },
            {
              "data": {"name": "f3"},
              "mark": {"type": "point", "filled": true, "opacity": 1, "size": 90},
              "encoding": {
                "x": {"field": "x", "type": "quantitative"},
                "y": {"field": "y", "type": "quantitative"},
                "color": {"datum": "Fringe capacity"},
                "shape": {"datum": "Fringe capacity"}
              }
            }
          ]
        }
      ]
    }
  ],
  "spacing": 32,
  "resolve": {"scale": {"x": "independent", "y": "independent", "color": "independent", "shape": "independent"}, "legend": {"color": "independent", "shape": "independent"}}
}
